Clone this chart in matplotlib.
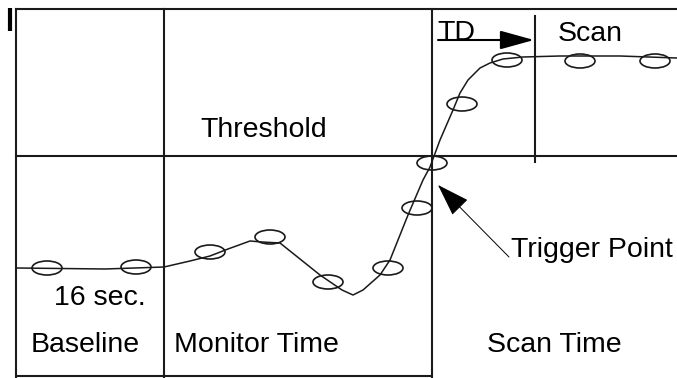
import matplotlib
matplotlib.use('Agg')
import matplotlib.pyplot as plt
from matplotlib.patches import Ellipse, FancyArrowPatch

plt.rcParams['font.family'] = ['Liberation Sans', 'DejaVu Sans']

# Signal trace (pixel-like units, y grows downwards)
curveX = [17, 105, 164, 190, 210, 228, 250, 262, 280, 300, 320, 342, 353, 363, 380, 390,
          408, 423, 430, 440, 453, 460, 468, 480, 490, 503, 523, 560, 620, 677]
curveY = [268, 269, 267, 261, 256, 249, 241, 242, 243, 259, 275, 290, 295, 290, 275, 260,
          215, 180, 167, 140, 110, 93, 80, 68, 63, 59, 57, 56, 56, 58]

# Sample points (ellipse centres)
sampleX = [47, 136, 210, 270, 328, 388, 417, 432, 462, 507, 580, 655]
sampleY = [268, 267, 252, 237, 282, 268, 208, 163, 104, 60, 61, 61]

# Region boundaries
gridV = [164, 432]
thresholdY = 156
scanStartX = 535

# Labels: text, left x, baseline y
labels = [
    ('Threshold', 200, 137),
    ('TD', 437, 40),
    ('Scan', 558, 41),
    ('16 sec.', 54, 305),
    ('Baseline', 31, 352),
    ('Monitor Time', 174, 352),
    ('Scan Time', 487, 352),
    ('Trigger Point', 511, 257),
]

fig = plt.figure(figsize=(6.77, 3.78), dpi=100)
ax = fig.add_axes([0, 0, 1, 1])
ax.set_xlim(0, 677)
ax.set_ylim(378, 0)
ax.axis('off')

lineColor = '#1a1a1a'
lw = 1.5

# frame and grid (small breaks as in the scanned original)
ax.plot([16, 311], [9, 9], color=lineColor, lw=lw)
ax.plot([313, 677], [9, 9], color=lineColor, lw=lw)
ax.plot([16, 16], [9, 262], color=lineColor, lw=lw)
ax.plot([16, 16], [264, 296], color=lineColor, lw=lw)
ax.plot([16, 16], [298, 352], color=lineColor, lw=lw)
ax.plot([16, 16], [354, 378], color=lineColor, lw=lw)
ax.plot([16, 432], [376, 376], color=lineColor, lw=lw)
for x in gridV:
    ax.plot([x, x], [9, 378], color=lineColor, lw=lw)
ax.plot([16, 677], [thresholdY, thresholdY], color=lineColor, lw=lw)
ax.plot([scanStartX, scanStartX], [16, 162], color=lineColor, lw=lw)

# the little "I" mark top left
ax.plot([10, 10], [8, 31], color='black', lw=3, solid_capstyle='butt')

# signal trace
ax.plot(curveX, curveY, color=lineColor, lw=1.1)

# sample ellipses
for x, y in zip(sampleX, sampleY):
    ax.add_patch(Ellipse((x, y), 30, 14, fill=False, edgecolor=lineColor, lw=1.2))

# TD arrow
ax.add_patch(FancyArrowPatch((438, 40), (534, 40), arrowstyle='-|>,head_length=21,head_width=5.8',
                             mutation_scale=1, shrinkA=0, shrinkB=0, color='black', lw=1.5))

# trigger point arrow
ax.add_patch(FancyArrowPatch((509, 257), (438, 185), arrowstyle='-|>,head_length=21,head_width=7',
                             mutation_scale=1, shrinkA=0, shrinkB=0, color='black', lw=0.7))

for txt, x, y in labels:
    ax.text(x, y, txt, fontsize=20.5, ha='left', va='baseline', color='black')

plt.savefig('out.png', dpi=100)
